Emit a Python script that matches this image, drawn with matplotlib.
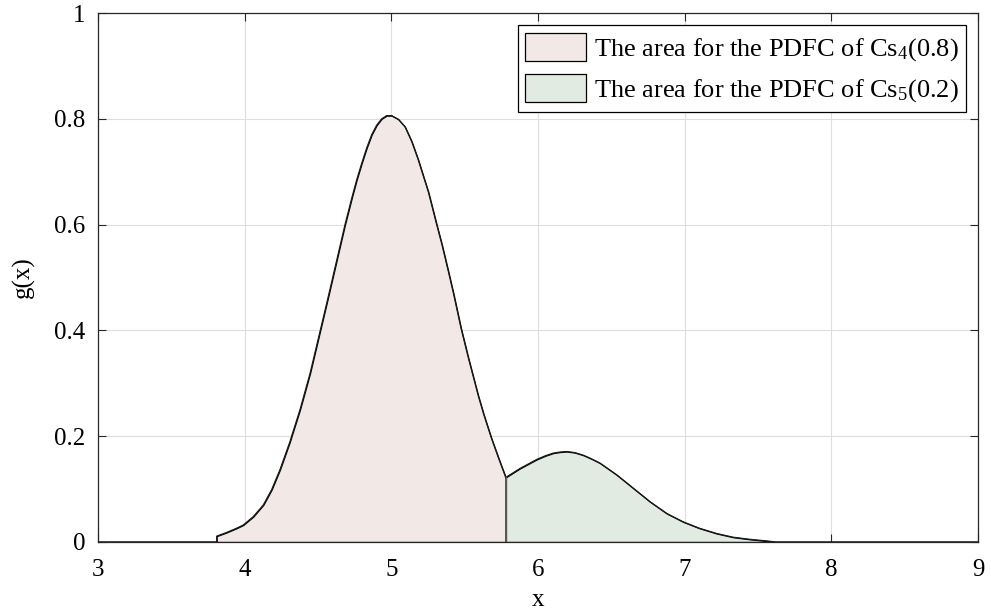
import matplotlib
matplotlib.use("Agg")
import matplotlib.pyplot as plt

plt.rcParams['font.family'] = ['Liberation Serif', 'DejaVu Serif']
plt.rcParams['mathtext.fontset'] = 'custom'
plt.rcParams['mathtext.rm'] = 'Liberation Serif'
plt.rcParams['mathtext.it'] = 'Liberation Serif:italic'

# curve values
x_cs4 = [3.0, 3.809, 3.809, 3.877, 3.945, 3.99, 4.059, 4.127, 4.184, 4.241,
         4.309, 4.32, 4.377, 4.445, 4.505, 4.570, 4.627, 4.684, 4.73, 4.764,
         4.798, 4.832, 4.866, 4.90, 4.934, 4.968, 5.002, 5.048, 5.093, 5.139,
         5.184, 5.22, 5.252, 5.309, 5.345, 5.389, 5.425, 5.475, 5.525, 5.593,
         5.63, 5.68, 5.729, 5.78]
g_cs4 = [0.0, 0.0, 0.011, 0.018, 0.026, 0.032, 0.048, 0.070, 0.099, 0.137,
         0.190, 0.200, 0.250, 0.318, 0.388, 0.464, 0.532, 0.600, 0.650, 0.685,
         0.716, 0.745, 0.770, 0.788, 0.800, 0.806, 0.806, 0.799, 0.785, 0.757,
         0.722, 0.690, 0.662, 0.600, 0.562, 0.511, 0.468, 0.404, 0.348, 0.276,
         0.241, 0.198, 0.160, 0.122]

x_cs5 = [5.78, 5.877, 5.991, 6.05, 6.104, 6.15, 6.195, 6.25, 6.309, 6.366,
         6.423, 6.536, 6.65, 6.764, 6.877, 6.99, 7.10, 7.218, 7.33, 7.445,
         7.559, 7.62, 9.0]
g_cs5 = [0.122, 0.139, 0.156, 0.163, 0.168, 0.170, 0.171, 0.169, 0.164, 0.157,
         0.149, 0.127, 0.1015, 0.076, 0.054, 0.038, 0.026, 0.016, 0.009, 0.005,
         0.002, 0.0, 0.0]

labels = [r'The area for the PDFC of Cs$_4$(0.8)',
          r'The area for the PDFC of Cs$_5$(0.2)']
xticks = [3, 4, 5, 6, 7, 8, 9]
yticks = [0, 0.2, 0.4, 0.6, 0.8, 1]
ytick_labels = ['0', '0.2', '0.4', '0.6', '0.8', '1']

fig = plt.figure(figsize=(9.91, 6.14), dpi=100)
ax = fig.add_axes([0.0989, 0.1173, 0.8880, 0.8615])

ax.fill_between(x_cs4, g_cs4, color='#f2e9e6', label=labels[0], edgecolor='none')
ax.fill_between(x_cs5, g_cs5, color='#e2ebe2', label=labels[1], edgecolor='none')
ax.plot(x_cs4, g_cs4, color='#1a1a1a', lw=0.9)
ax.plot(x_cs5, g_cs5, color='#1a1a1a', lw=0.9)
ax.plot([x_cs5[0], x_cs5[0]], [0, g_cs5[0]], color='#555555', lw=1.0)

ax.set_xlim(3, 9)
ax.set_ylim(0, 1)
ax.set_xticks(xticks)
ax.set_yticks(yticks)
ax.set_yticklabels(ytick_labels)
ax.grid(True, color='#dedede', lw=0.8)
ax.set_axisbelow(True)
ax.tick_params(direction='in', top=True, right=True, labelsize=18, length=6,
               color='#262626', width=0.8)
ax.tick_params(axis='x', pad=12)
ax.tick_params(axis='y', pad=9)
for s in ax.spines.values():
    s.set_color('#262626')
    s.set_linewidth(0.9)

ax.set_xlabel('x', fontsize=18, labelpad=6)
ax.set_ylabel('g(x)', fontsize=18, labelpad=14)

handles, labs = ax.get_legend_handles_labels()
for h in handles:
    h.set_edgecolor('black')
    h.set_linewidth(0.9)
leg = ax.legend(handles, labs, loc='upper right', fontsize=19, frameon=True,
                fancybox=False, framealpha=1, edgecolor='black',
                handlelength=2.3, handleheight=1.25, handletextpad=0.3,
                labelspacing=0.42, borderpad=0.28, borderaxespad=0.47)
leg.get_frame().set_linewidth(0.9)

fig.savefig('out.png', dpi=100)
